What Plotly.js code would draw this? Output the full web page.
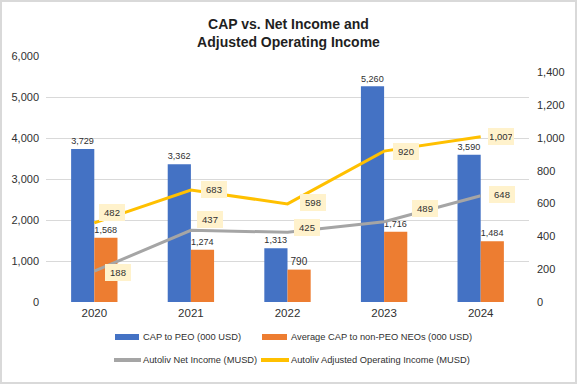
<!DOCTYPE html>
<html>
<head>
<meta charset="utf-8">
<script src="https://cdn.plot.ly/plotly-3.0.1.min.js"></script>
<style>
  html, body { margin: 0; padding: 0; background: #fff; }
  #chart { width: 573px; height: 380px; border: 2px solid #d9d9d9; }
</style>
</head>
<body>
<div id="chart"></div>
<script>
// ---- data ----
const years = ['2020', '2021', '2022', '2023', '2024'];
const capPEO = [3729, 3362, 1313, 5260, 3590];
const capNonPEO = [1568, 1274, 790, 1716, 1484];
const netIncome = [188, 437, 425, 489, 648];
const adjOpIncome = [482, 683, 598, 920, 1007];
const leftTicks = [0, 1000, 2000, 3000, 4000, 5000, 6000];
const rightTicks = [0, 200, 400, 600, 800, 1000, 1200, 1400];

const seriesNames = [
  'CAP to PEO (000 USD)',
  'Average CAP to non-PEO NEOs (000 USD)',
  'Autoliv Net Income (MUSD)',
  'Autoliv Adjusted Operating Income (MUSD)'
];
const colors = ['#4472C4', '#ED7D31', '#A5A5A5', '#FFC000'];
const textColor = '#303030';

// label nudges (pixels) for the boxed line labels
const netShiftX = [11, 6, 6, 28, 8];
const netShiftY = [1, -11, -5, -13, -1];
const adjShiftX = [5, 10, 12, 9, 7];
const adjShiftY = [-10, 0, -1, 0, 0];

// ---- layout geometry ----
const W = 573, H = 380;
const M = { l: 44, r: 46, t: 54, b: 80 };
const BORDER = 2;
const xp = X => (X - BORDER - M.l) / (W - M.l - M.r);
const yp = Y => 1 - (Y - BORDER - M.t) / (H - M.t - M.b);

const fontFam = '"Liberation Sans", Arial, sans-serif';
const fmt = v => v.toLocaleString('en-US');

const traces = [
  {
    type: 'bar', name: seriesNames[0], x: years, y: capPEO,
    marker: { color: colors[0] },
    text: capPEO.map(fmt), textposition: 'outside', cliponaxis: false,
    textfont: { size: 10, color: textColor, family: fontFam },
    hoverinfo: 'skip', showlegend: false
  },
  {
    type: 'bar', name: seriesNames[1], x: years, y: capNonPEO,
    marker: { color: colors[1] },
    text: capNonPEO.map(fmt), textposition: 'outside', cliponaxis: false,
    textfont: { size: 10, color: textColor, family: fontFam },
    hoverinfo: 'skip', showlegend: false
  },
  {
    type: 'scatter', mode: 'lines', name: seriesNames[2], x: years, y: netIncome,
    yaxis: 'y2', line: { color: colors[2], width: 3 },
    hoverinfo: 'skip', showlegend: false
  },
  {
    type: 'scatter', mode: 'lines', name: seriesNames[3], x: years, y: adjOpIncome,
    yaxis: 'y2', line: { color: colors[3], width: 3 },
    hoverinfo: 'skip', showlegend: false
  }
];

const annotations = [];
function boxLabels(vals, sx, sy) {
  vals.forEach((v, i) => {
    annotations.push({
      x: i, y: v, xref: 'x', yref: 'y2',
      text: fmt(v), showarrow: false,
      xanchor: 'left', yanchor: 'middle',
      xshift: sx[i], yshift: -sy[i],
      bgcolor: '#FFF2CC', borderpad: 2, borderwidth: 0,
      width: 22, height: 13,
      font: { size: 9.5, color: textColor, family: fontFam }
    });
  });
}
boxLabels(netIncome, netShiftX, netShiftY);
boxLabels(adjOpIncome, adjShiftX, adjShiftY);

// custom legend
const shapes = [];
const legendItems = [
  { kind: 'rect', x0: 115, x1: 139, tx: 141, y: 337 },
  { kind: 'rect', x0: 262, x1: 287, tx: 289, y: 337 },
  { kind: 'line', x0: 114, x1: 141, tx: 141, y: 360 },
  { kind: 'line', x0: 261, x1: 289, tx: 289, y: 360 }
];
legendItems.forEach((it, i) => {
  if (it.kind === 'rect') {
    shapes.push({ type: 'rect', xref: 'paper', yref: 'paper',
      x0: xp(it.x0), x1: xp(it.x1), y0: yp(it.y - 3), y1: yp(it.y + 3),
      fillcolor: colors[i], line: { width: 0 } });
  } else {
    shapes.push({ type: 'line', xref: 'paper', yref: 'paper',
      x0: xp(it.x0), x1: xp(it.x1), y0: yp(it.y), y1: yp(it.y),
      line: { color: colors[i], width: 4 } });
  }
  annotations.push({
    xref: 'paper', yref: 'paper', x: xp(it.tx), y: yp(it.y),
    xanchor: 'left', yanchor: 'middle', showarrow: false,
    text: seriesNames[i],
    font: { size: 9.3, color: textColor, family: fontFam }
  });
});

const layout = {
  width: W, height: H,
  margin: M,
  paper_bgcolor: '#ffffff', plot_bgcolor: '#ffffff',
  font: { family: fontFam, color: textColor, size: 11 },
  title: {
    text: '<b>CAP vs. Net Income and<br>Adjusted Operating Income</b>',
    x: 0.5, xanchor: 'center', y: 1 - 27 / H, yanchor: 'top',
    font: { size: 14, color: '#1f1f1f', family: fontFam }
  },
  barmode: 'group', bargap: 0.52, bargroupgap: 0,
  showlegend: false,
  xaxis: {
    type: 'category', range: [-0.5, 4.5], autorange: false,
    showgrid: false, zeroline: false, showline: false,
    ticks: '', ticklabelstandoff: 2,
    tickfont: { size: 11.5, color: textColor }
  },
  yaxis: {
    range: [0, 6000], autorange: false, tickvals: leftTicks, tickformat: ',d',
    showgrid: true, gridcolor: '#d9d9d9', gridwidth: 1,
    zeroline: false, showline: false, ticks: '',
    ticklabelstandoff: 6,
    tickfont: { size: 11, color: textColor }
  },
  yaxis2: {
    overlaying: 'y', side: 'right',
    range: [0, 1500], autorange: false, tickvals: rightTicks, tickformat: ',d',
    showgrid: false, zeroline: false, showline: false, ticks: '',
    ticklabelstandoff: 7,
    tickfont: { size: 11, color: textColor }
  },
  annotations: annotations,
  shapes: shapes
};

Plotly.newPlot('chart', traces, layout, { displayModeBar: false, staticPlot: true });
</script>
</body>
</html>
